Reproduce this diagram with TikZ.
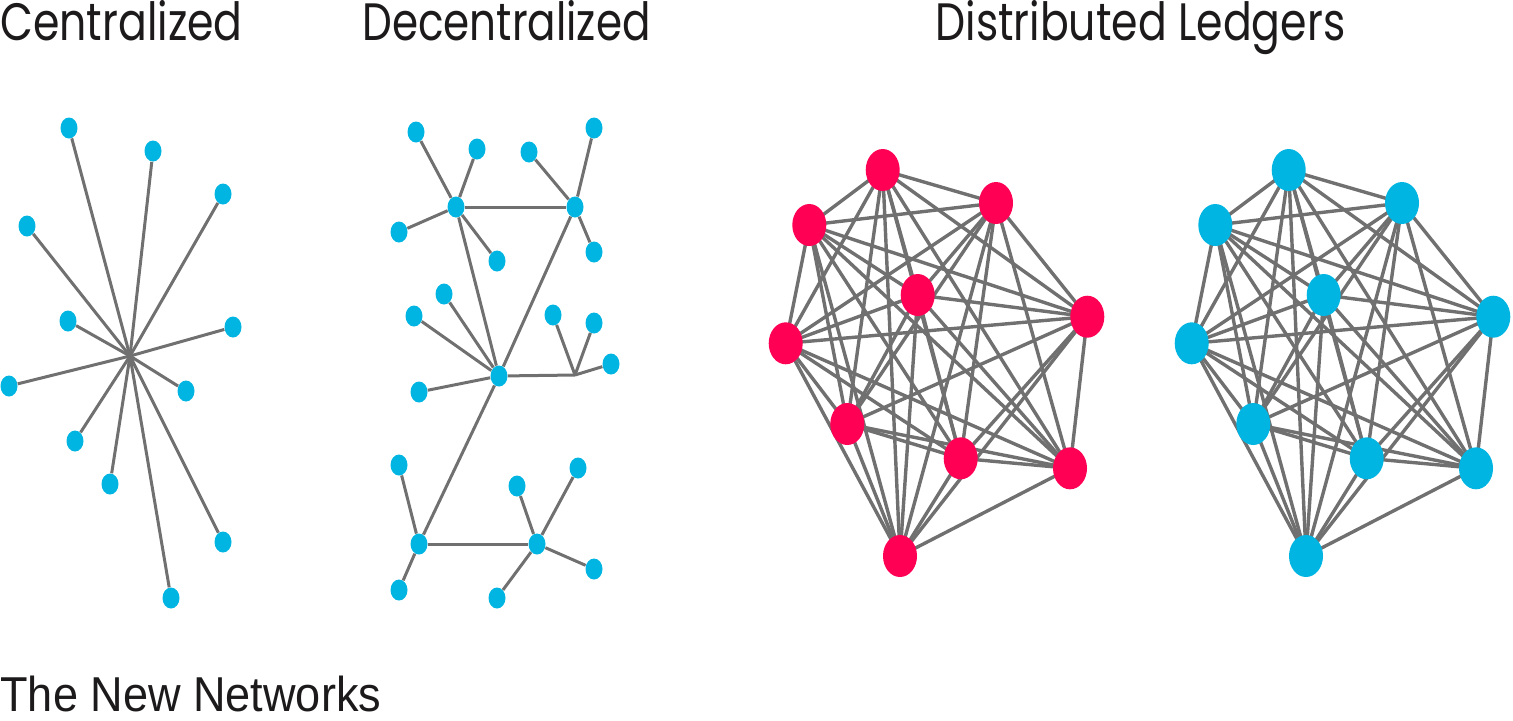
\documentclass[tikz,border=0pt]{standalone}
\usepackage{graphicx}
\usepackage{fontspec}
\usepackage{tikz}
\usetikzlibrary{shapes.geometric, backgrounds}

\newfontfamily\titlefont{Poppins}
\newfontfamily\footfont{Liberation Sans}
\definecolor{dotblue}{RGB}{0,181,226}
\definecolor{dotred}{RGB}{255,0,85}
\definecolor{edgegray}{RGB}{112,112,112}
\definecolor{inkblack}{RGB}{28,26,26}
\newcommand{\narrow}[2][0.81]{\scalebox{#1}[1]{#2}}

\begin{document}
\begin{tikzpicture}[x=0.5pt, y=-0.5pt,
    dot/.style={ellipse, fill=dotblue, inner sep=0pt, minimum width=8.5pt, minimum height=10.5pt},
    bigdot/.style={ellipse, fill=#1, inner sep=0pt, minimum width=17pt, minimum height=21pt},
    link/.style={edgegray, line width=1.5pt},
    heading/.style={anchor=base west, inner sep=0pt, text=inkblack, font=\titlefont\fontsize{26.3}{30}\selectfont}]
    \useasboundingbox (0, 0) rectangle (1513, 720);

    \node[heading] (tcen) at (0, 40) {\narrow{Centralized}};
    \node[heading] (tdec) at (362, 40) {\narrow[0.8]{Decentralized}};
    \node[heading] (tdis) at (935, 40) {\narrow{Distributed Ledgers}};
    \node[heading, font=\footfont\fontsize{24.5}{28}\selectfont] (tnew) at (0, 711) {\narrow[0.92]{The New Networks}};

    % centralized star
    \coordinate (hub) at (130, 356);
    \foreach \x/\y [count=\n] in {69/128, 153/151, 223/194, 27/226, 68/321, 233/327,
        9/386, 186/391, 75/441, 110/484, 223/542, 171/598} {
        \node[dot] (s\n) at (\x, \y) {};
        \draw[link] (hub) -- (s\n);
    }

    % decentralized tree
    \node[dot] (ha) at (456, 207) {};
    \node[dot] (hb) at (575, 207) {};
    \node[dot] (hc) at (499, 376) {};
    \coordinate (hj) at (575, 375);
    \node[dot] (hd) at (419, 544) {};
    \node[dot] (he) at (537, 544) {};
    \foreach \h/\list in {ha/{416/132, 477/149, 399/232, 497/261},
        hb/{529/152, 594/128, 594/252},
        hc/{444/294, 414/316, 419/392},
        hj/{553/315, 594/323, 611/364},
        hd/{399/465, 399/590},
        he/{517/486, 578/468, 594/569, 497/598}} {
        \foreach \x/\y [count=\n] in \list {
            \node[dot] (\h\n) at (\x, \y) {};
            \draw[link] (\h) -- (\h\n);
        }
    }
    \draw[link] (ha) -- (hb);
    \draw[link] (ha) -- (hc);
    \draw[link] (hb) -- (hc);
    \draw[link] (hc) -- (hj);
    \draw[link] (hc) -- (hd);
    \draw[link] (hd) -- (he);

    % distributed ledgers, two full meshes
    \foreach \g/\c/\dx in {r/dotred/0, b/dotblue/406} {
        \foreach \x/\y [count=\n] in {882.7/170, 996/203, 809.3/225, 917.7/295, 1087.3/316.7,
            785.7/343.3, 847.3/424, 960.7/458.3, 1070/468.3, 900/556} {
            \node[bigdot=\c] (\g\n) at (\x + \dx, \y) {};
        }
        \begin{pgfonlayer}{background}
            \foreach \i in {1,...,9} {
                \pgfmathtruncatemacro\k{\i + 1}
                \foreach \j in {\k,...,10}
                    \draw[link, line width=1.7pt] (\g\i.center) -- (\g\j.center);
            }
        \end{pgfonlayer}
    }
\end{tikzpicture}
\end{document}
